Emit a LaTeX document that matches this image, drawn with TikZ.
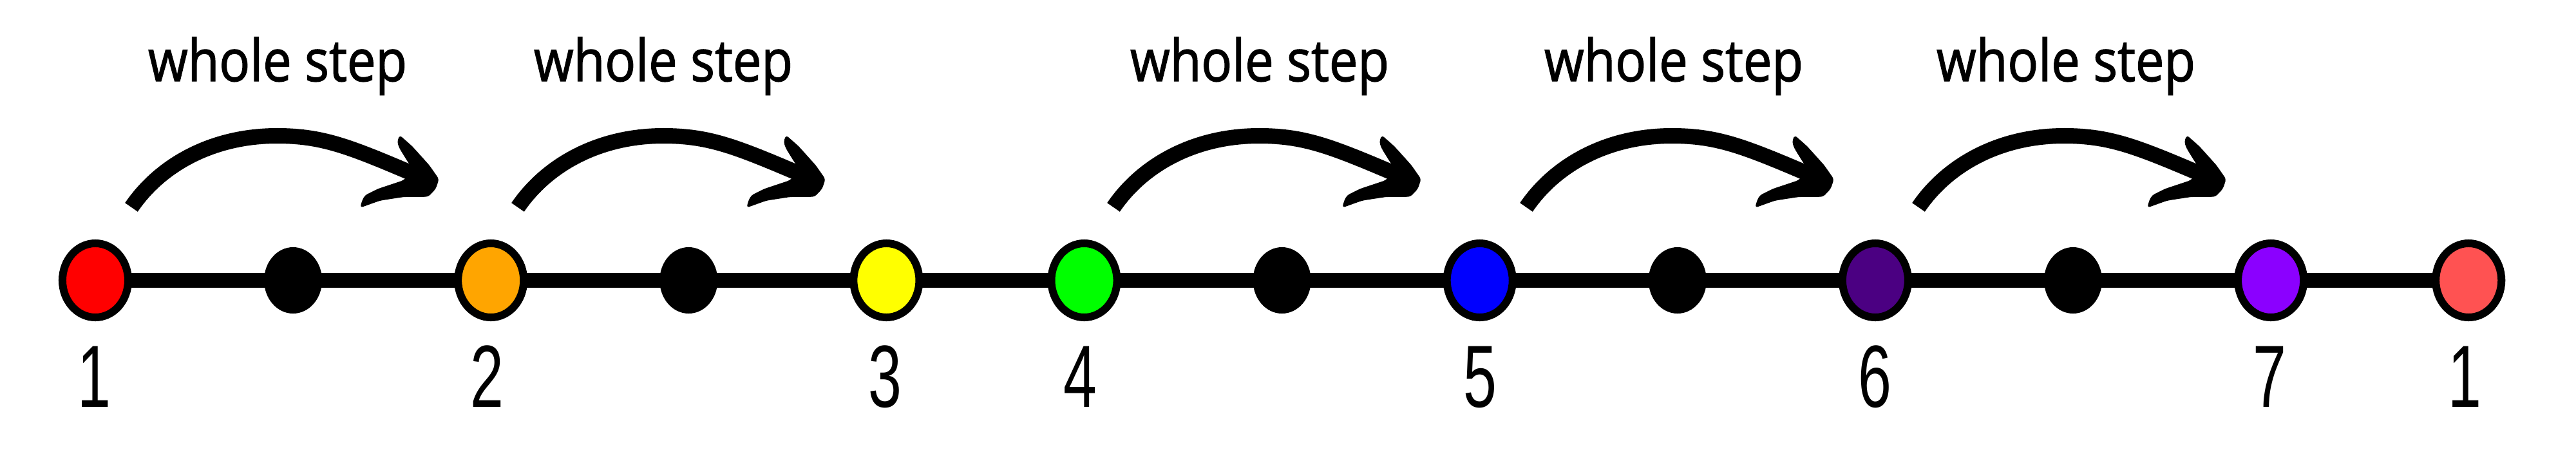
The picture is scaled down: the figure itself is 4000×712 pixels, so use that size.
\documentclass[tikz,border=0pt]{standalone}
\usepackage{fontspec}
\setmainfont{Liberation Sans}
\newfontfamily\labfont[FakeBold=1.6]{Open Sans}
\usetikzlibrary{shapes.geometric}
\definecolor{cRed}{HTML}{FF0000}
\definecolor{cOrange}{HTML}{FFA500}
\definecolor{cYellow}{HTML}{FFFF00}
\definecolor{cGreen}{HTML}{00FF00}
\definecolor{cBlue}{HTML}{0000FF}
\definecolor{cIndigo}{HTML}{4B0082}
\definecolor{cViolet}{HTML}{8B00FF}
\definecolor{cLightRed}{HTML}{FF5252}
\tikzset{
  note/.style={ellipse, draw=black, line width=0.12cm, minimum width=1.02cm, minimum height=1.15cm, inner sep=0pt},
  semi/.style={ellipse, fill=black, minimum width=0.9cm, minimum height=1.03cm, inner sep=0pt},
  deg/.style={inner sep=0pt, anchor=base, font=\fontsize{39}{40}\selectfont},
  stepl/.style={inner sep=0pt, anchor=base, font=\labfont\fontsize{25.6}{28}\selectfont},
  shaft/.style={line width=0.24cm, draw=black},
  head/.style={fill=black, rounded corners=0.04cm},
  baseline/.style={line width=0.22cm, draw=black}
}
\newcommand\wholearrow[2]{%
  \begin{scope}[shift={(#2,0)}]
    \coordinate (#1s) at (8,322);
    \coordinate (#1t) at (234,211);
    \coordinate (#1e) at (448,271);
    \draw[shaft] (#1s) .. controls (53,256) and (134,211) .. (#1t) .. controls (304,211) and (345,227) .. (#1e);
    \fill[head] (424.7,210) -- (444,227) -- (470.7,256.7) -- (485.7,278.3) -- (480.7,293.3) -- (469,305.7)
      -- (430.7,306) -- (394,311.7) -- (363.3,322.7) -- (366,312) -- (370.7,303.3) -- (390.7,293.3)
      -- (430.7,280) -- (445.7,263.3) -- (437.3,251.7) -- (424,230) -- (420.7,220) -- cycle;
  \end{scope}}
\begin{document}
\begin{tikzpicture}[x=0.01cm, y=-0.01cm]
\useasboundingbox (0,0) rectangle (4000,712);
\fill[white] (0,0) rectangle (4000,712);
% positions
\coordinate (p0) at (148,435.5);
\coordinate (p1) at (455.1,435.5);
\coordinate (p2) at (762.2,435.5);
\coordinate (p3) at (1069.3,435.5);
\coordinate (p4) at (1376.4,435.5);
\coordinate (p5) at (1683.5,435.5);
\coordinate (p6) at (1990.6,435.5);
\coordinate (p7) at (2297.7,435.5);
\coordinate (p8) at (2604.8,435.5);
\coordinate (p9) at (2911.9,435.5);
\coordinate (p10) at (3219,435.5);
\coordinate (p11) at (3526.1,435.5);
\coordinate (p12) at (3833.2,435.5);
\draw[baseline] (p0) -- (p12);
% dots
\node[note, fill=cRed] (d0) at (p0) {};
\node[semi] (d1) at (p1) {};
\node[note, fill=cOrange] (d2) at (p2) {};
\node[semi] (d3) at (p3) {};
\node[note, fill=cYellow] (d4) at (p4) {};
\node[note, fill=cGreen] (d5) at (p5) {};
\node[semi] (d6) at (p6) {};
\node[note, fill=cBlue] (d7) at (p7) {};
\node[semi] (d8) at (p8) {};
\node[note, fill=cIndigo] (d9) at (p9) {};
\node[semi] (d10) at (p10) {};
\node[note, fill=cViolet] (d11) at (p11) {};
\node[note, fill=cLightRed] (d12) at (p12) {};
% degree numbers
\node[deg] (n1) at (146,632) {\scalebox{0.68}[1]{1}};
\node[deg] (n2) at (756,632) {\scalebox{0.68}[1]{2}};
\node[deg] (n3) at (1374,632) {\scalebox{0.68}[1]{3}};
\node[deg] (n4) at (1677,632) {\scalebox{0.68}[1]{4}};
\node[deg] (n5) at (2298,632) {\scalebox{0.68}[1]{5}};
\node[deg] (n6) at (2911,632) {\scalebox{0.68}[1]{6}};
\node[deg] (n7) at (3524,632) {\scalebox{0.68}[1]{7}};
\node[deg] (n8) at (3827,632) {\scalebox{0.68}[1]{1}};
% arrows
\wholearrow{a1}{196}
\wholearrow{a2}{796}
\wholearrow{a3}{1721}
\wholearrow{a4}{2362}
\wholearrow{a5}{2971}
% labels
\node[stepl] (w1) at (431,126) {\scalebox{0.88}[1]{whole step}};
\node[stepl] (w2) at (1030,126) {\scalebox{0.88}[1]{whole step}};
\node[stepl] (w3) at (1956,126) {\scalebox{0.88}[1]{whole step}};
\node[stepl] (w4) at (2599,126) {\scalebox{0.88}[1]{whole step}};
\node[stepl] (w5) at (3208,126) {\scalebox{0.88}[1]{whole step}};
\end{tikzpicture}
\end{document}
